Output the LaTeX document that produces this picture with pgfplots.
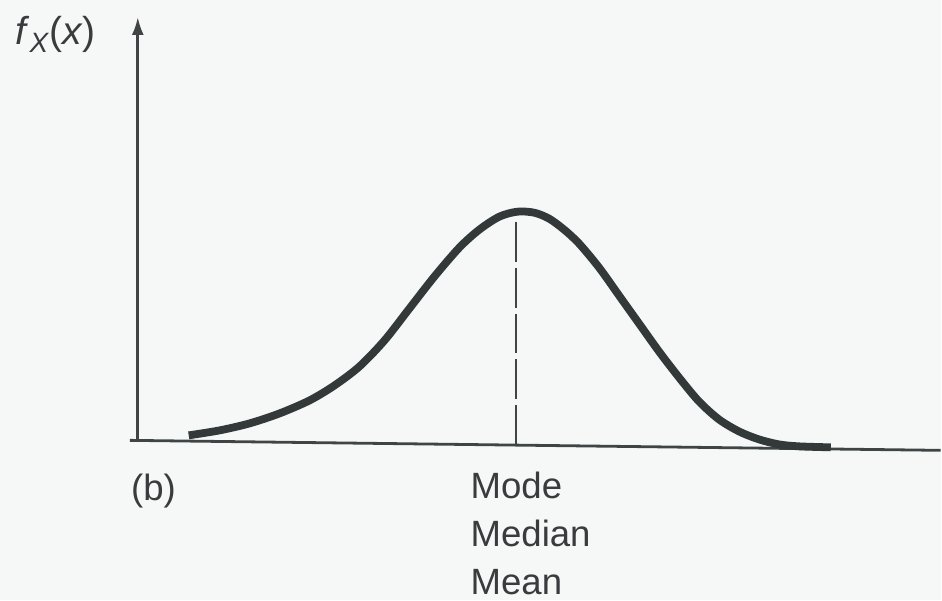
\documentclass[border=0pt]{standalone}
\usepackage{pgfplots}
\pgfplotsset{compat=1.18}
\usetikzlibrary{arrows.meta}
\usepackage{fontspec}
\setmainfont{Liberation Sans}

\definecolor{paper}{HTML}{F6F7F7}
\definecolor{ink}{HTML}{333939}
\definecolor{axisink}{HTML}{3F4545}
\definecolor{txt}{HTML}{383C3C}

% Bell-shaped density, sampled along its outline (x to the right, y downwards)
\pgfplotstableread{
x   y
189 436
220 431
250 424
280 414
310 401
335 386
360 367
385 341
410 309
435 277
460 248
480 230
500 217
518 212
535 213
550 219
565 230
580 244
600 268
620 296
640 324
660 352
680 378
700 402
720 420
740 432
760 440
780 445
800 447
832 448
}\density

\begin{document}
\begin{tikzpicture}
\begin{axis}[
  width=471pt, height=300.5pt, scale only axis,
  xmin=0, xmax=942, ymin=0, ymax=601, y dir=reverse,
  hide axis, clip=false,
]
  % paper
  \fill[paper] (rel axis cs:0,0) rectangle (rel axis cs:1,1);

  % coordinate axes
  \addplot[axisink, line width=1.4pt, -{Latex[length=9pt,width=6pt]}]
    coordinates {(138,443) (138,17)};
  \addplot[axisink, line width=1.4pt] coordinates {(130,441) (942,451)};

  % mode / median / mean marker
  \addplot[axisink, line width=1.1pt, dash pattern=on 20pt off 3pt]
    coordinates {(517,222) (517,446)};

  % density curve
  \addplot[ink, line width=3.9pt, smooth, tension=0.5, line cap=butt]
    table[x=x, y=y] {\density};

  % labels
  \node[anchor=base west, inner sep=0pt, txt, font=\fontsize{19.5}{23}\selectfont]
    at (axis cs:15,45) {\textit{f}{\fontsize{14}{16}\selectfont\raisebox{-4pt}{\textit{X}}}(\textit{x})};
  \node[anchor=base west, inner sep=0pt, txt, font=\fontsize{18.3}{22}\selectfont]
    at (axis cs:131,501) {(b)};
  \node[anchor=base west, inner sep=0pt, txt, font=\fontsize{18.3}{22}\selectfont]
    at (axis cs:471,499) {Mode};
  \node[anchor=base west, inner sep=0pt, txt, font=\fontsize{18.3}{22}\selectfont]
    at (axis cs:471,547) {Median};
  \node[anchor=base west, inner sep=0pt, txt, font=\fontsize{18.3}{22}\selectfont]
    at (axis cs:471,595) {Mean};
\end{axis}
\end{tikzpicture}
\end{document}
